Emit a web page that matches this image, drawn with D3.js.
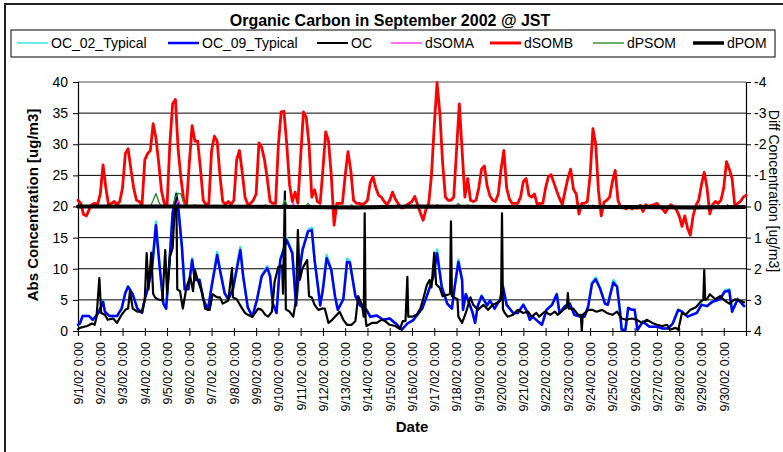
<!DOCTYPE html>
<html><head><meta charset="utf-8">
<script src="https://cdn.jsdelivr.net/npm/d3@7"></script>
<style>
body{margin:0;background:#fff;}
svg{display:block;font-family:Arial,"Liberation Sans",sans-serif;}
</style>
</head><body>
<svg id="chart" width="783" height="452"></svg>
<script>
// ---------------- DATA ----------------
const chartTitle = "Organic Carbon in September 2002 @ JST";
const seriesNames = ["OC_02_Typical","OC_09_Typical","OC","dSOMA","dSOMB","dPSOM","dPOM"];
const leftTicks = [0,5,10,15,20,25,30,35,40];
const rightTicks = [-4,-3,-2,-1,0,1,2,3,4];
const xTickLabels = ["9/1/02 0:00","9/2/02 0:00","9/3/02 0:00","9/4/02 0:00","9/5/02 0:00","9/6/02 0:00","9/7/02 0:00","9/8/02 0:00","9/9/02 0:00","9/10/02 0:00","9/11/02 0:00","9/12/02 0:00","9/13/02 0:00","9/14/02 0:00","9/15/02 0:00","9/16/02 0:00","9/17/02 0:00","9/18/02 0:00","9/19/02 0:00","9/20/02 0:00","9/21/02 0:00","9/22/02 0:00","9/23/02 0:00","9/24/02 0:00","9/25/02 0:00","9/26/02 0:00","9/27/02 0:00","9/28/02 0:00","9/29/02 0:00","9/30/02 0:00"];
const xTickDays = [0,1,2,3,4,5,6,7,8,9,10,11,12,13,14,15,16,17,18,19,20,21,22,23,24,25,26,27,28,29,30];

// [hours since 9/1/02 0:00, value]  (left axis, ug/m3)
const oc09Typical = [[0,1.0],[2,1.2],[5,2.4],[12,2.4],[16,1.8],[22,2.9],[27,4.7],[29,3.1],[34,2.4],[42,2.4],[47,3.6],[51,6.1],[54,7.1],[59,5.9],[64,3.6],[69,2.9],[72,5.1],[75,6.7],[80,10.3],[84,17],[88,10.3],[92,4.4],[95,3.6],[99,12],[102,18.9],[106,21.8],[108,19.9],[112,13.5],[115,6.7],[119,6.7],[123,11.4],[126,8.2],[131,8.2],[135,5.1],[140,3.4],[144,7.1],[150,12.2],[153,9.8],[158,6.1],[162,5.1],[167,6.7],[175,13],[178,8.8],[183,3.8],[188,2.3],[193,5.1],[198,8.8],[204,10.1],[207,8.8],[210,4.4],[214,2.9],[218,11.4],[225,14.6],[231,12.5],[235,4.1],[237,7.6],[242,13],[248,16],[252,16.2],[255,11.4],[259,6.7],[261,4.1],[264,6.7],[268,11.7],[273,9.8],[277,5.6],[280,3.4],[286,5.1],[290,11.1],[293,11],[299,5.6],[304,4.1],[311,3.4],[315,2.3],[322,2.5],[329,1.8],[336,2.0],[344,1.0],[349,0.2],[355,1.2],[361,1.7],[371,3.6],[376,5.6],[383,8.7],[387,12.5],[392,7.1],[398,4.4],[403,3.6],[406,7.1],[410,11.1],[414,8.2],[415,3.4],[418,5.9],[425,3.1],[428,1.3],[431,4.1],[435,5.6],[441,4.1],[444,4.9],[449,3.6],[455,5.1],[458,7.1],[462,4.2],[469,2.9],[474,2.9],[480,4.2],[484,3.1],[487,1.8],[490,2.3],[496,1.5],[500,1.0],[505,3.4],[511,4.2],[516,5.9],[519,2.9],[525,4.0],[530,4.4],[535,2.6],[541,2.3],[546,2.3],[550,4.0],[554,7.6],[558,8.3],[563,6.7],[568,4.4],[571,4.2],[577,7.8],[581,7.1],[584,3.4],[586,0.2],[590,0.2],[593,3.7],[597,3.4],[600,3.4],[603,0.2],[609,1.5],[616,0.7],[624,0.7],[630,0.4],[636,0.4],[641,1.2],[647,3.4],[651,3.1],[657,2.3],[667,2.9],[672,4.2],[678,4.0],[684,4.7],[692,5.1],[697,6.3],[702,6.5],[705,3.1],[711,5.1],[718,4.0]];

const oc02Typical = [[0,1.0],[2,1.2],[5,2.4],[12,2.4],[16,1.8],[22,2.9],[27,4.8],[29,3.1],[34,2.4],[42,2.4],[47,3.6],[51,6.2],[54,7.2],[59,5.9],[64,3.6],[69,2.9],[72,5.1],[75,6.8],[80,10.5],[84,17.6],[88,10.4],[92,4.4],[95,3.6],[99,12.1],[102,19.1],[106,22.2],[108,20.1],[112,13.6],[115,6.7],[119,6.8],[123,11.7],[126,8.3],[131,8.3],[135,5.1],[140,3.4],[144,7.2],[150,12.7],[153,9.9],[158,6.1],[162,5.1],[167,6.8],[175,13.5],[178,8.9],[183,3.8],[188,2.3],[193,5.1],[198,8.9],[204,10.4],[207,8.9],[210,4.4],[214,2.9],[218,11.5],[225,14.9],[231,12.6],[235,4.1],[237,7.6],[242,13.2],[248,16.2],[252,16.6],[255,11.5],[259,6.7],[261,4.1],[264,6.8],[268,12.2],[273,9.9],[277,5.6],[280,3.4],[286,5.1],[290,11.6],[293,11.2],[299,5.6],[304,4.1],[311,3.4],[315,2.3],[322,2.5],[329,1.8],[336,2.0],[344,1.0],[349,0.2],[355,1.2],[361,1.7],[371,3.6],[376,5.7],[383,8.9],[387,13.1],[392,7.2],[398,4.4],[403,3.6],[406,7.2],[410,11.5],[414,8.3],[415,3.4],[418,6.0],[425,3.1],[428,1.3],[431,4.1],[435,5.7],[441,4.1],[444,4.9],[449,3.6],[455,5.2],[458,7.3],[462,4.2],[469,2.9],[474,2.9],[480,4.3],[484,3.1],[487,1.8],[490,2.3],[496,1.5],[500,1.0],[505,3.4],[511,4.3],[516,6.0],[519,2.9],[525,4.1],[530,4.5],[535,2.6],[541,2.3],[546,2.3],[550,4.1],[554,7.8],[558,8.6],[563,6.8],[568,4.4],[571,4.3],[577,8.2],[581,7.2],[584,3.4],[586,0.2],[590,0.2],[593,3.7],[597,3.4],[600,3.4],[603,0.2],[609,1.5],[616,0.7],[624,0.7],[630,0.4],[636,0.4],[641,1.2],[647,3.4],[651,3.1],[657,2.3],[667,2.9],[672,4.3],[678,4.0],[684,4.8],[692,5.2],[697,6.5],[702,6.7],[705,3.1],[711,5.2],[718,4.0]];

const ocMeasured = [[0,0.3],[2,0.5],[10,0.8],[15,1.2],[18,1.0],[20,2.3],[23,8.5],[25,2.9],[29,2.6],[32,1.8],[38,2.0],[42,1.3],[47,2.6],[51,3.4],[54,3.6],[56,6.4],[59,3.6],[64,3.1],[69,3.1],[72,5.1],[74,12.5],[76,6.7],[79,12.6],[81,6.0],[83,5.4],[86,5.1],[91,4.9],[94,13],[96,6.0],[99,11.9],[102,13.3],[104,19],[106,22],[107,6.7],[110,6.4],[113,3.6],[117,7.1],[121,8.7],[124,6.4],[126,9.8],[129,8.2],[134,6.1],[137,3.6],[142,3.4],[145,5.9],[150,5.4],[153,5.4],[156,4.4],[162,4.9],[166,10.1],[167,5.4],[171,5.1],[177,3.6],[180,2.9],[183,2.6],[188,2.3],[191,2.9],[194,3.6],[198,3.4],[202,2.6],[205,2.3],[209,3.1],[212,8],[216,10.3],[220,10.5],[221,6.0],[223,22.4],[224,3.5],[228,3.1],[232,2.3],[235,5],[237,16.2],[239,8.2],[242,10.1],[247,11.4],[249,5.6],[252,5.4],[255,4.2],[259,3.4],[263,3.6],[266,3.6],[270,1.3],[274,1.8],[279,2.6],[282,3.1],[286,1.8],[290,1.0],[295,1.0],[299,1.6],[302,5.6],[306,4.2],[308,2.3],[309,18.9],[310,2.0],[311,0.8],[317,1.3],[322,1.3],[327,1.8],[331,1.6],[336,1.0],[342,0.8],[347,0.3],[350,1.6],[353,1.6],[355,8.7],[356,2.3],[360,2.3],[365,2.6],[369,3.6],[372,5.1],[376,7.4],[379,8.2],[381,7],[384,12.6],[386,7.5],[390,6.9],[393,5.6],[398,5.8],[401,6],[402,17.6],[403,5.6],[409,5.1],[410,2.3],[414,1.3],[418,2.9],[423,5.4],[426,4.2],[431,3.4],[437,4.2],[442,3.4],[447,4.2],[453,4.6],[456,5],[457,18.9],[458,3.5],[460,2.9],[463,2.3],[469,2.6],[474,3.4],[480,2.9],[485,3.1],[489,2.3],[494,2.9],[497,2.3],[503,3.1],[509,2.6],[514,3.1],[517,2.6],[523,3.4],[527,3.8],[528,6.1],[529,3.6],[534,3.6],[539,2.6],[542,2.6],[543,0],[544,2.6],[550,3.4],[554,3.4],[559,3.1],[565,3.4],[570,2.9],[576,2.6],[581,3.1],[586,2.0],[591,1.8],[597,2.0],[602,1.8],[608,1.3],[613,1.8],[619,1.3],[624,1.0],[630,0.8],[635,1.0],[638,0.2],[644,0.5],[647,0.2],[651,2.9],[655,2.6],[660,3.4],[666,3.8],[671,4.7],[674,5],[675,9.8],[676,5],[678,5.1],[681,5.9],[687,5.1],[692,5.6],[697,4.9],[702,4.4],[708,5.1],[713,4.9],[718,4.6]];

// right axis (diff, ug/m3), 3-hourly values starting 9/1/02 0:00
const dSOMBStepHours = 3;
const dSOMB = [
 -0.2,-0.1,0.26,0.3,0.1,-0.06,-0.1,-0.06,
 -0.4,-1.34,-0.6,-0.04,-0.1,-0.16,-0.06,-0.16,
 -0.6,-1.7,-1.86,-1.2,-0.6,-0.2,-0.16,-0.04,
 -1.5,-1.7,-1.8,-2.66,-2.2,-1.4,-0.5,-0.1,
 -0.06,-2.0,-3.3,-3.44,-1.8,-0.9,-0.2,-0.06,
 -1.4,-2.6,-2.1,-2.1,-1.2,-0.2,-0.06,-0.1,
 -1.8,-2.26,-2.1,-1.0,-0.16,-0.06,-0.16,-0.06,
 -0.2,-1.5,-1.8,-1.1,-0.3,-0.06,-0.1,-0.2,
 -0.4,-2.04,-1.9,-1.5,-0.9,-0.16,-0.1,-0.1,
 -2.0,-3.04,-3.06,-2.0,-0.7,-0.16,-0.46,-0.1,
 -1.6,-3.04,-2.86,-2.0,-0.3,-0.54,-0.16,-0.1,
 -1.2,-2.4,-2.1,-1.0,0.6,-0.1,-0.1,-0.1,
 -1.0,-1.76,-1.16,-0.2,-0.1,-0.1,-0.06,-0.1,
 -0.2,-0.76,-0.96,-0.6,-0.36,-0.3,-0.16,-0.06,
 -0.2,-0.46,-0.24,-0.1,0.04,0.04,-0.04,-0.1,
 -0.16,-0.32,-0.06,0.2,0.44,0.1,-0.1,-1.0,
 -2.6,-3.98,-3.0,-1.4,-0.3,-0.2,-0.2,-0.3,
 -1.8,-3.3,-1.8,-0.3,-0.9,-0.2,-0.16,-0.2,
 -0.6,-1.2,-1.3,-0.66,-0.34,-0.2,-0.16,-0.4,
 -1.2,-1.8,-0.6,-0.24,-0.1,-0.1,-0.1,-0.3,
 -0.8,-0.9,-0.36,-0.3,-0.4,-0.06,-0.1,-0.1,
 -0.6,-0.96,-1.02,-0.76,-0.5,-0.26,-0.06,-0.5,
 -0.9,-1.2,-0.56,-0.4,0.24,-0.1,-0.1,-0.16,
 -1.0,-2.5,-2.0,-0.5,0.3,-0.14,-0.2,-0.3,
 -0.8,-1.16,-0.2,0.04,0.04,0.08,0,0.08,
 0.04,0.06,-0.04,0.16,-0.06,0,-0.04,-0.06,
 -0.1,0,0.08,0.2,0.04,-0.06,0,0.1,
 0.3,0.64,0.3,0.7,0.92,0.3,-0.04,-0.2,
 -0.7,-1.1,-0.6,0.24,-0.06,-0.16,-0.1,-0.2,
 -0.6,-1.44,-1.2,-0.9,0,-0.1,-0.16,-0.3,
 -0.36];

const dPSOM = [[0,0],[78,0],[81,-0.2],[84,-0.42],[87,-0.15],[90,0],[102,0],[105,-0.3],[108,-0.42],[111,-0.4],[114,-0.1],[117,0],[124,0],[126,-0.06],[128,0],[200,0],[202,-0.06],[204,0],[220,0],[223,-0.2],[226,0],[245,0],[248,-0.1],[251,0],[293,0],[295,-0.06],[297,0],[385,0],[387,-0.06],[389,0],[407,0],[410,-0.1],[413,0],[418,0],[420,-0.06],[422,0],[553,0],[555,-0.05],[557,0],[698,0],[700,-0.06],[702,0],[718,0]];

const dSOMA = [[0,0],[82,0],[84,-0.05],[86,0],[105,0],[108,-0.2],[111,0],[207,0],[209,-0.05],[211,0],[230,0],[232,-0.1],[234,0],[548,0],[550,-0.05],[552,0],[668,0],[670,-0.06],[672,0],[688,0],[690,-0.05],[692,0],[718,0]];

const dPOM = [[0,0],[120,0],[240,0.02],[300,0.03],[360,0],[480,0.02],[600,0.02],[660,0.03],[718,0.02]];

// ---------------- CHART ----------------
const svg = d3.select("#chart");
const L = 78, R = 746, T = 82, B = 331;
const t0 = Date.UTC(2002, 8, 1);
const toDate = h => new Date(t0 + h * 3600e3);

const x = d3.scaleUtc().domain([toDate(0), toDate(720)]).range([L, R]);
const yL = d3.scaleLinear().domain([0, 40]).range([B, T]);
const yR = d3.scaleLinear().domain([4, -4]).range([B, T]);

svg.append("rect").attr("width",783).attr("height",452).attr("fill","#fff");
// outer frame (only left/top visible)
svg.append("rect").attr("x",5).attr("y",4).attr("width",900).attr("height",700)
  .attr("fill","none").attr("stroke","#222").attr("stroke-width",2);

// title
svg.append("text").attr("x",390).attr("y",26).attr("text-anchor","middle")
  .attr("font-size",16).attr("font-weight","bold").text(chartTitle);

// gridlines
svg.append("g").selectAll("line").data(leftTicks.filter(v => v > 0 && v < 40)).join("line")
  .attr("x1",L).attr("x2",R).attr("y1",d=>yL(d)).attr("y2",d=>yL(d))
  .attr("stroke","#000").attr("stroke-width",1);
svg.append("line").attr("x1",L).attr("x2",R).attr("y1",yL(40)).attr("y2",yL(40))
  .attr("stroke","#888").attr("stroke-width",1.5);

// axes
const axL = svg.append("g").attr("transform",`translate(${L},0)`)
  .call(d3.axisLeft(yL).tickValues(leftTicks).tickSize(5).tickPadding(5).tickFormat(d=>String(d)));
const axR = svg.append("g").attr("transform",`translate(${R},0)`)
  .call(d3.axisRight(yR).tickValues(rightTicks).tickSize(5).tickPadding(3).tickFormat(d=>String(d)));
const axX = svg.append("g").attr("transform",`translate(0,${B})`)
  .call(d3.axisBottom(x).tickValues(xTickDays.map(d=>toDate(d*24))).tickSize(5)
    .tickFormat((d,i)=> xTickLabels[i] || ""));
[axL, axR, axX].forEach(a => {
  a.select(".domain").attr("stroke","#000").attr("stroke-width",1.2);
  a.selectAll(".tick line").attr("stroke","#000");
  a.selectAll("text").attr("fill","#000").attr("font-family","Arial, Liberation Sans, sans-serif");
});
axL.selectAll("text").attr("font-size",14);
axR.selectAll("text").attr("font-size",14);
axX.selectAll(".tick line").attr("y1",-3);
axX.selectAll("text").attr("font-size",12.5)
  .attr("transform","rotate(-90)").attr("x",-11).attr("y",0).attr("dy","0.35em")
  .style("text-anchor","end");

// axis titles
svg.append("text").attr("transform","translate(38,205) rotate(-90)").attr("text-anchor","middle")
  .attr("font-size",15).attr("font-weight","bold").text("Abs Concentration [ug/m3]");
svg.append("text").attr("transform","translate(769,191) rotate(90)").attr("text-anchor","middle")
  .attr("font-size",14).text("Diff Concentration [ug/m3]");
svg.append("text").attr("x",412).attr("y",432).attr("text-anchor","middle")
  .attr("font-size",15).attr("font-weight","bold").text("Date");

// series
const lineL = d3.line().x(d=>x(toDate(d[0]))).y(d=>yL(d[1]));
const lineR = d3.line().x(d=>x(toDate(d[0]))).y(d=>yR(d[1]));
const somb = dSOMB.map((v,i)=>[i*dSOMBStepHours, v]);

const styles = [
  {data:oc02Typical, line:lineL, color:"#33e6e6", w:2.5, lw:1.5},
  {data:oc09Typical, line:lineL, color:"#0000ff", w:2.5, lw:2.5},
  {data:ocMeasured, line:lineL, color:"#000000", w:2.2, lw:2},
  {data:dSOMA, line:lineR, color:"#ff33ff", w:1.4, lw:1.4},
  {data:somb, line:lineR, color:"#ff0000", w:2.8, lw:3},
  {data:dPSOM, line:lineR, color:"#2e8b2e", w:1.4, lw:1.4},
  {data:dPOM, line:lineR, color:"#000000", w:4, lw:3.5}
];
const gp = svg.append("g");
styles.forEach(s => {
  gp.append("path").attr("d", s.line(s.data)).attr("fill","none")
    .attr("stroke", s.color).attr("stroke-width", s.w)
    .attr("stroke-linejoin","round").attr("stroke-linecap","round");
});

// legend
svg.append("rect").attr("x",11).attr("y",30).attr("width",764).attr("height",27)
  .attr("fill","#fff").attr("stroke","#000").attr("stroke-width",1);
const legendLineX = [17,168,317,391,490,593,693];
const ly = 43;
styles.forEach((s,i) => {
  const lx = legendLineX[i];
  svg.append("line").attr("x1",lx).attr("x2",lx+31).attr("y1",ly).attr("y2",ly)
    .attr("stroke",s.color).attr("stroke-width", s.lw);
  svg.append("text").attr("x",lx+34).attr("y",ly+5).attr("font-size",14).text(seriesNames[i]);
});
</script>
</body></html>
